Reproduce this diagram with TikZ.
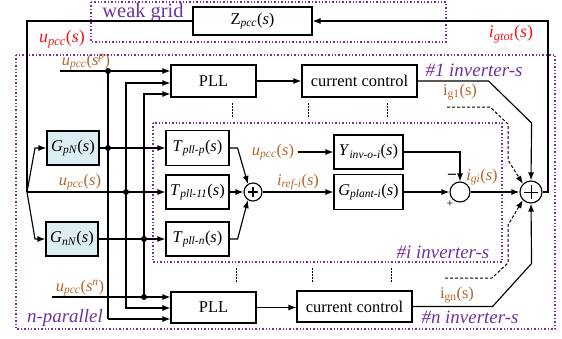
\documentclass[tikz,border=0pt]{standalone}
\usepackage{fontspec}
\setmainfont{Liberation Serif}
\usetikzlibrary{arrows.meta,calc}
\definecolor{vio}{RGB}{112,48,160}
\definecolor{brn}{RGB}{184,100,40}
\definecolor{gred}{RGB}{245,20,20}
\definecolor{boxblue}{RGB}{218,238,243}
% transfer-function label: letter, subscript, argument
\newcommand\tfn[3]{\textit{#1}\textsubscript{\textit{#2}}(\textit{#3})}
\begin{document}
\begin{tikzpicture}[x=1bp,y=-1bp,
  wire/.style={line width=1.15pt},
  arr/.style={wire,-{Latex[length=8bp,width=6bp]}},
  grp/.style={draw=vio,line width=1.2pt,dash pattern=on 1.4bp off 2bp},
  sep/.style={line width=1pt,dash pattern=on 1.5bp off 1.5bp},
  blk/.style={draw,line width=1.15pt,inner sep=0pt,font=\fontsize{16.5}{18}\selectfont},
  gblk/.style={blk,fill=boxblue},
  jdot/.style={circle,fill,inner sep=0pt,minimum size=6bp},
  sumc/.style={circle,draw,line width=1.15pt,inner sep=0pt},
  vtxt/.style={text=vio,font=\fontsize{19}{20}\selectfont\itshape},
  btxt/.style={text=brn,font=\fontsize{16.5}{18}\selectfont},
  rtxt/.style={text=gred,font=\fontsize{18}{20}\selectfont}]
\useasboundingbox (0,0) rectangle (562,338);

% group frames
\draw[grp] (91,2) rectangle (446,42);
\draw[grp] (16,55) rectangle (555,329);
\draw[grp] (153,123) rectangle (502,262);

% blocks
\node[blk,minimum width=119bp,minimum height=28bp] (zg) at (252.5,21) {Z\textsubscript{\textit{pcc}}(\textit{s})};
\node[blk,minimum width=85bp,minimum height=32bp] (pllt) at (213.5,81) {PLL};
\node[blk,minimum width=115bp,minimum height=32bp] (cct) at (359.5,81) {current control};
\node[blk,minimum width=85bp,minimum height=31bp] (pllb) at (213.5,307.5) {PLL};
\node[blk,minimum width=115bp,minimum height=31bp] (ccb) at (354.5,306.5) {current control};
\node[gblk,minimum width=52bp,minimum height=34bp] (gp) at (73,148) {\tfn{G}{pN}{s}};
\node[gblk,minimum width=52bp,minimum height=34bp] (gn) at (72,239) {\tfn{G}{nN}{s}};
\node[blk,minimum width=63bp,minimum height=35bp] (tp) at (197.5,148) {\tfn{T}{pll-p}{s}};
\node[blk,minimum width=63bp,minimum height=34bp] (t11) at (197.5,192) {\tfn{T}{pll-11}{s}};
\node[blk,minimum width=63bp,minimum height=34bp] (tn) at (197.5,239) {\tfn{T}{pll-n}{s}};
\node[blk,minimum width=69bp,minimum height=34bp] (yb) at (368.5,152) {\tfn{Y}{inv-o-i}{s}};
\node[blk,minimum width=69bp,minimum height=35bp] (gpl) at (368.5,192) {\tfn{G}{plant-i}{s}};

% summing junctions
\node[sumc,minimum size=18bp] (s1) at (253,192) {};
\draw[line width=1.15pt] ($(s1)+(-5,0)$) -- ($(s1)+(5,0)$) ($(s1)+(0,-5)$) -- ($(s1)+(0,5)$);
\node[sumc,minimum size=20bp] (s2) at (460,192) {};
\node[sumc,minimum size=22bp] (bs) at (531,192) {};
\draw[line width=1pt] ($(bs)+(-7,0)$) -- ($(bs)+(7,0)$) ($(bs)+(0,-7)$) -- ($(bs)+(0,7)$);

% texts
\node[vtxt,font=\fontsize{20.5}{22}\selectfont\upshape] (wg) at (143,13) {weak grid};
\node[rtxt] (ur) at (62,39) {\tfn{u}{pcc}{s}};
\node[rtxt] (igt) at (511,34) {\tfn{i}{gtot}{s}};
\node[btxt] (upl) at (86,62) {\textit{u}\textsubscript{\textit{pcc}}(\textit{s}\textsuperscript{\textit{p}})};
\node[btxt] (unl) at (80,288) {\textit{u}\textsubscript{\textit{pcc}}(\textit{s}\textsuperscript{\textit{n}})};
\node[btxt] (uml) at (80,182) {\tfn{u}{pcc}{s}};
\node[btxt] (uyl) at (273,152) {\tfn{u}{pcc}{s}};
\node[btxt] (irl) at (298,182) {\tfn{i}{ref-i}{s}};
\node[btxt] (igl) at (482,177) {\tfn{i}{gi}{s}};
\node[btxt] (ig1) at (460,92) {i\textsubscript{g1}(s)};
\node[btxt] (ign) at (457,295) {i\textsubscript{gn}(s)};
\node[vtxt] (inv1) at (474,70) {\#1 inverter-s};
\node[vtxt] (invi) at (443,252) {\#i inverter-s};
\node[vtxt] (invn) at (470,317) {\#n inverter-s};
\node[vtxt] (npar) at (65,318) {n-parallel};
\node[font=\fontsize{16}{16}\selectfont\bfseries] (minus) at (452,176) {--};
\node[font=\fontsize{12}{12}\selectfont] (plus) at (450,204) {+};

% junction points
\coordinate (tl) at (27,21);
\coordinate (br) at (27,192);
\coordinate (inp) at (60,71);
\coordinate (inn) at (52,297);
\coordinate (jp) at (108,71);
\coordinate (jpn) at (108,148);
\coordinate (jpb) at (108,319);
\coordinate (jm) at (126,83);
\coordinate (jmd) at (126,192);
\coordinate (jmb) at (126,308);
\coordinate (jn) at (144,94);
\coordinate (jnd) at (144,239);
\coordinate (jns) at (144,297);
\coordinate (rc) at (548,21);
\coordinate (d1) at (447,107);
\coordinate (d2) at (445,278);

% grid voltage feed and branches
\draw[wire] (zg.west) -- (tl) -- (br);
\draw[arr] (br) -- ++(8,-44) -- (gp.west);
\draw[arr] (br) -- ++(8,47) -- (gn.west);
\draw[arr] (br) -- (t11.west);
\draw[arr] (gp.east) -- (tp.west);
\draw[arr] (gn.east) -- (tn.west);

% PLL inputs
\draw[arr] (inp) -- (pllt.west |- inp);
\draw[arr] (inn) -- (pllb.west |- inn);
\draw[wire] (jp) -- (jpb);
\draw[arr] (jpb) -- (pllb.west |- jpb);
\draw[arr] (jmd) -- (jm) -- (pllt.west |- jm);
\draw[arr] (jmd) -- (jmb) -- (pllb.west |- jmb);
\draw[arr] (jnd) -- (jn) -- (pllt.west |- jn);
\draw[wire] (jnd) -- (jns);
\foreach \p in {jp,jpn,jmd,jnd,jns} \node[jdot] at (\p) {};

% PLL to current control
\draw[arr] (pllt.east) -- (cct.west);
\draw[arr] (pllb.east) -- (ccb.west |- pllb.east);

% inverter i internals
\draw[arr] (tp.east) -- ++(8,0) -- (s1.122);
\draw[arr] (t11.east) -- (s1.west);
\draw[arr] (tn.east) -- ++(8,0) -- (s1.238);
\draw[arr] (s1.east) -- (gpl.west);
\draw[arr] (uyl.east) -- (yb.west);
\draw[arr] (yb.east) -| (s2.north);
\draw[arr] (gpl.east) -- (s2.west);
\draw[arr] (s2.east) -- (bs.west);

% inverter currents to the total sum
\draw[arr] (cct.east) -- ++(71,0) -- ++(43,42) -- (bs.north);
\draw[arr] (ccb.east) -- ++(80,0) -- ++(39,-43) -- (bs.south);
\draw[arr,line width=1pt,dash pattern=on 3bp off 2bp] (d1) -- ++(43,0) -- ++(18,17) -- ++(0,36) -- (bs.north west);
\draw[arr,line width=1pt,dash pattern=on 3bp off 2bp] (d2) -- ++(47,0) -- ++(16,-15) -- ++(0,-38) -- (bs.south west);
\draw[arr] (bs.east) -| (rc) -- (zg.east);

% omitted inverters
\foreach \x in {232,308,387} \draw[sep] (\x,103) -- (\x,118);
\foreach \x in {236,312,391} \draw[sep] (\x,268) -- (\x,283);
\end{tikzpicture}
\end{document}
